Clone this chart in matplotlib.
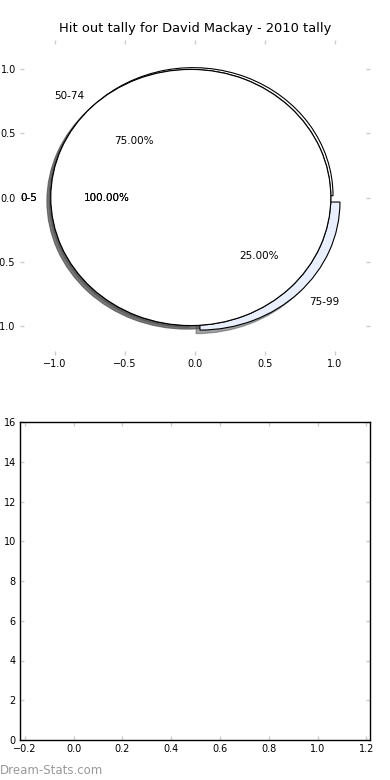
import numpy as np
import matplotlib
matplotlib.use('Agg')
import matplotlib.pyplot as plt

# tally data for 2010
labels_low = ['0-5']
counts_low = [1]
explode_low = [0.03]

labels_high = ['50-74', '75-99']
counts_high = [3, 1]
explode_high = [0.02, 0.05]
colors_high = ['white', '#e9effd']

x_ticks = [-0.2, 0.0, 0.2, 0.4, 0.6, 0.8, 1.0, 1.2]
y_ticks = [0, 2, 4, 6, 8, 10, 12, 14, 16]

fig = plt.figure(figsize=(3.9, 7.8), dpi=100)
ax1 = fig.add_axes([20 / 390, 1 - 355 / 780, 350 / 390, 315 / 780])
ax2 = fig.add_axes([20 / 390, 1 - 740 / 780, 350 / 390, 318 / 780])

wprops = {'edgecolor': 'black', 'linewidth': 0.8}
tprops = {'fontsize': 7.5}
shadow_style = {'ox': -0.02, 'oy': -0.02, 'alpha': 0.75}

# pie with two slices underneath
ax1.pie(counts_high, labels=labels_high, explode=explode_high, colors=colors_high,
        autopct='%1.2f%%', shadow=True, wedgeprops=wprops, textprops=tprops)
# single slice pie on top (drawn twice, shadow only once)
for sh in (shadow_style, False):
    ax1.pie(counts_low, labels=labels_low, explode=explode_low, colors=['white'],
            autopct='%1.2f%%', shadow=sh, wedgeprops=wprops, textprops=tprops)

ax1.set_aspect('auto')
ax1.set_xlim(-1.25, 1.25)
ax1.set_ylim(-1.23, 1.23)
ax1.set_frame_on(False)
ax1.set_xticks([-1.0, -0.5, 0.0, 0.5, 1.0])
ax1.set_yticks([-1.0, -0.5, 0.0, 0.5, 1.0])
ax1.set_title('Hit out tally for David Mackay - 2010 tally', fontsize=9.4, pad=6)

ax2.set_xlim(-0.22, 1.215)
ax2.set_ylim(0, 16)
ax2.set_xticks(x_ticks)
ax2.set_yticks(y_ticks)
for sp in ax2.spines.values():
    sp.set_color('black')
    sp.set_linewidth(1.0)

for ax in (ax1, ax2):
    ax.tick_params(direction='in', length=3, width=1, color='#cccccc',
                   top=True, right=True, labelsize=7, pad=3)

fig.text(0.0, 1 - 770 / 780, 'Dream-Stats.com', fontsize=8.5, color='#999999',
         ha='left', va='center')

fig.savefig('out.png', dpi=100)
